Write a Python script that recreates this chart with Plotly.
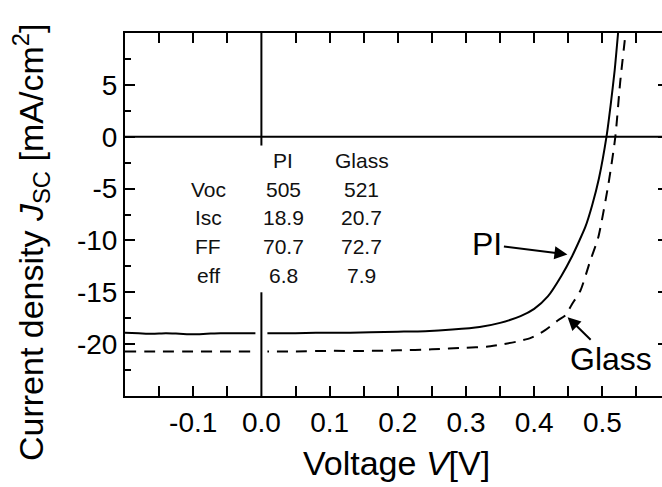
import plotly.graph_objects as go

# ---- data ----
v_pi = [-0.2, -0.18, -0.16, -0.14, -0.12, -0.10, -0.08, -0.06, -0.04, -0.02, 0.0, 0.02, 0.05,
        0.08, 0.10, 0.13, 0.16, 0.20, 0.24, 0.28, 0.32, 0.35, 0.38, 0.40, 0.42, 0.44, 0.455,
        0.465, 0.475, 0.485, 0.495, 0.506, 0.512, 0.518, 0.523]
j_pi = [-18.9, -18.95, -19.0, -18.95, -19.0, -19.05, -19.0, -18.95, -18.95, -18.95, -18.95,
        -18.95, -18.95, -18.9, -18.9, -18.9, -18.85, -18.8, -18.75, -18.6, -18.35, -17.95, -17.3,
        -16.6, -15.4, -13.4, -11.6, -10.2, -8.7, -6.6, -4.0, 0.0, 3.0, 6.4, 10.0]

v_glass = [-0.2, -0.15, -0.10, -0.05, 0.0, 0.05, 0.10, 0.15, 0.20, 0.25, 0.30, 0.33, 0.355,
           0.375, 0.395, 0.415, 0.435, 0.446, 0.455, 0.468, 0.482, 0.494, 0.509, 0.519,
           0.526, 0.534]
j_glass = [-20.7, -20.7, -20.7, -20.7, -20.7, -20.7, -20.65, -20.65, -20.6, -20.5, -20.35,
           -20.25, -20.0, -19.75, -19.4, -18.7, -17.7, -17.2, -16.2, -14.8, -12.0, -9.7,
           -4.5, 0.0, 5.2, 10.0]

x_tickvals = [-0.1, 0.0, 0.1, 0.2, 0.3, 0.4, 0.5]
y_tickvals = [-20, -15, -10, -5, 0, 5]

table_params = ["Voc", "Isc", "FF", "eff"]
table_pi = [505, 18.9, 70.7, 6.8]
table_glass = [521, 20.7, 72.7, 7.9]

FONT = "Arial, 'Liberation Sans', sans-serif"

fig = go.Figure()
fig.add_trace(go.Scatter(x=v_pi, y=j_pi, mode="lines", line_shape="spline",
                         line=dict(color="black", width=2, smoothing=0.6),
                         showlegend=False, hoverinfo="skip"))
fig.add_trace(go.Scatter(x=v_glass, y=j_glass, mode="lines", line_shape="spline",
                         line=dict(color="black", width=2, dash="11px,8px", smoothing=0.6),
                         showlegend=False, hoverinfo="skip"))
# dummy trace to make the right axis render
fig.add_trace(go.Scatter(x=v_pi, y=j_pi, yaxis="y2", mode="lines", opacity=0,
                         showlegend=False, hoverinfo="skip"))

# vertical axis line at V=0 with a gap behind the table (white halo then black)
for y0, y1 in [(10, -0.85), (-15, -25)]:
    fig.add_shape(type="line", xref="x", yref="y", x0=0, x1=0, y0=y0, y1=y1,
                  line=dict(color="white", width=12), layer="above")
for y0, y1 in [(10, -0.85), (-15, -25)]:
    fig.add_shape(type="line", xref="x", yref="y", x0=0, x1=0, y0=y0, y1=y1,
                  line=dict(color="black", width=2), layer="above")
# horizontal zero line
fig.add_shape(type="line", xref="paper", yref="y", x0=0, x1=1, y0=0, y1=0,
              line=dict(color="black", width=2), layer="above")

# table
cols_x = [-0.078, 0.032, 0.147]
rows_y = [-5.06, -7.8, -10.6, -13.4]
fig.add_annotation(x=cols_x[1], y=-2.3, text="PI", showarrow=False,
                   font=dict(size=21, family=FONT, color="#111"))
fig.add_annotation(x=cols_x[2], y=-2.3, text="Glass", showarrow=False,
                   font=dict(size=21, family=FONT, color="#111"))
for p, a, b, yy in zip(table_params, table_pi, table_glass, rows_y):
    for txt, xx in [(p, cols_x[0]), (str(a), cols_x[1]), (str(b), cols_x[2])]:
        fig.add_annotation(x=xx, y=yy, text=txt, showarrow=False,
                           font=dict(size=21, family=FONT, color="#111"))

# arrow labels
fig.add_annotation(x=0.4487, y=-11.35, text="PI", showarrow=True, axref="pixel", ayref="pixel",
                   ax=-80, ay=-10, arrowhead=2, arrowsize=1.3, arrowwidth=2, arrowcolor="black",
                   font=dict(size=32, family=FONT, color="black"))
fig.add_annotation(x=0.449, y=-17.4, text="Glass", showarrow=True, axref="pixel", ayref="pixel",
                   ax=43, ay=42, arrowhead=2, arrowsize=1.3, arrowwidth=2, arrowcolor="black",
                   font=dict(size=32, family=FONT, color="black"))

# axis titles
fig.add_annotation(xref="paper", yref="paper", x=-0.175, y=0.4215, textangle=-90,
                   text="Current density <i>J</i><sub>SC</sub> [mA/cm<sup>2</sup>]",
                   showarrow=False, xanchor="center", yanchor="middle",
                   font=dict(size=34, family=FONT, color="black"))
fig.add_annotation(xref="paper", yref="paper", x=0.5065, y=-0.1846,
                   text="Voltage <i>V</i>[V]", showarrow=False, xanchor="center",
                   yanchor="middle", font=dict(size=34, family=FONT, color="black"))

fig.update_layout(
    width=662, height=487,
    margin=dict(l=125, r=0, t=33, b=91),
    paper_bgcolor="white", plot_bgcolor="white",
    font=dict(family=FONT, color="black"),
    xaxis=dict(range=[-0.2, 0.5874], tickvals=x_tickvals,
               ticktext=[f"{v:.1f}" for v in x_tickvals],
               ticks="inside", ticklen=10, tickwidth=2, tickcolor="black",
               minor=dict(ticks="inside", dtick=0.05, tick0=0, ticklen=6, tickwidth=2,
                          tickcolor="black"),
               showline=True, linewidth=2, linecolor="black", mirror="allticks",
               showgrid=False, zeroline=False, tickfont=dict(size=28, family=FONT)),
    yaxis=dict(range=[-25, 10], tickvals=y_tickvals,
               ticktext=[str(v) for v in y_tickvals],
               ticks="inside", ticklen=10, tickwidth=2, tickcolor="black",
               minor=dict(ticks="inside", dtick=2.5, tick0=0, ticklen=6, tickwidth=2,
                          tickcolor="black"),
               showline=True, linewidth=2, linecolor="black",
               showgrid=False, zeroline=False, tickfont=dict(size=28, family=FONT)),
    yaxis2=dict(overlaying="y", side="right", range=[-25, 10], tickvals=y_tickvals,
                ticks="inside", ticklen=4, tickwidth=2, tickcolor="black",
                showticklabels=False, showline=False, showgrid=False, zeroline=False),
)

fig.write_html("out.html")
